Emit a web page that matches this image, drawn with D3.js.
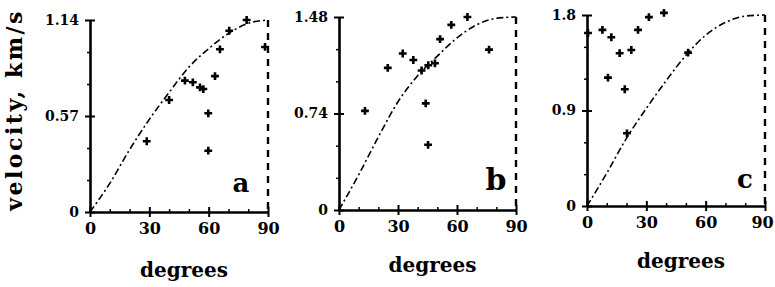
<!DOCTYPE html>
<html>
<head>
<meta charset="utf-8">
<script src="https://cdn.jsdelivr.net/npm/d3@7"></script>
<style>
  body { margin: 0; background: #fff; }
  svg { display: block; }
  text { font-family: "DejaVu Serif", serif; font-weight: bold; fill: #000; }
</style>
</head>
<body>
<script>
// panel a - measured points (angle in degrees, velocity km/s)
const aDeg = [28.7, 40, 48, 52, 55.6, 57.3, 59.8, 59.8, 63.2, 65.7, 70.4, 79.2, 88.5];
const aVel = [0.42, 0.665, 0.78, 0.77, 0.74, 0.73, 0.586, 0.364, 0.807, 0.966, 1.076, 1.14, 0.98];
// panel a - dash-dot curve
const aCurveDeg = [0, 10, 20, 30, 40, 50, 60, 70, 80, 90];
const aCurveVel = [0, 0.17, 0.37, 0.55, 0.71, 0.86, 0.97, 1.06, 1.12, 1.14];

// panel b
const bDeg = [13.2, 24.8, 32.4, 37.8, 42.0, 45.4, 48.8, 44.1, 45.3, 51.4, 57.1, 65.3, 76.3];
const bVel = [0.76, 1.09, 1.2, 1.15, 1.07, 1.11, 1.125, 0.818, 0.5, 1.31, 1.42, 1.48, 1.23];
const bCurveDeg = [0, 10, 20, 30, 40, 50, 60, 70, 80, 90];
const bCurveVel = [0, 0.27, 0.56, 0.83, 1.03, 1.18, 1.32, 1.42, 1.47, 1.48];

// panel c
const cDeg = [0.5, 7.8, 12.3, 16.5, 22.4, 25.8, 31.3, 38.9, 10.6, 19.1, 20.2, 51.1];
const cVel = [1.63, 1.66, 1.59, 1.44, 1.47, 1.66, 1.78, 1.82, 1.21, 1.1, 0.685, 1.445];
const cCurveDeg = [0, 10, 20, 30, 40, 50, 60, 70, 80, 90];
const cCurveVel = [0, 0.31, 0.64, 0.92, 1.18, 1.42, 1.61, 1.73, 1.79, 1.8];

// axis ticks
const xTicks = [0, 30, 60, 90];
const xMinor = [10, 20, 40, 50, 70, 80];
const aYTicks = [0, 0.57, 1.14];
const bYTicks = [0, 0.74, 1.48];
const cYTicks = [0, 0.9, 1.8];
const panelLetters = ["a", "b", "c"];
const xTitle = "degrees";
const yTitle = "velocity, km/s";

const width = 775, height = 287;

const svg = d3.select("body").append("svg")
    .attr("width", width)
    .attr("height", height);

// layout of each panel (pixel box of the plot area)
const panels = [
    { deg: aDeg, vel: aVel, cDeg: aCurveDeg, cVel: aCurveVel, yTicks: aYTicks,
      left: 90, right: 268, top: 20, bottom: 212, letterX: 241, letterY: 192, titleY: 277 },
    { deg: bDeg, vel: bVel, cDeg: bCurveDeg, cVel: bCurveVel, yTicks: bYTicks,
      left: 339, right: 516, top: 17, bottom: 210, letterX: 496, letterY: 190, titleY: 272 },
    { deg: cDeg, vel: cVel, cDeg: cCurveDeg, cVel: cCurveVel, yTicks: cYTicks,
      left: 587, right: 765, top: 15, bottom: 206, letterX: 745, letterY: 188, titleY: 268 }
];

panels.forEach((p, i) => {
    const yMax = p.yTicks[p.yTicks.length - 1];
    const x = d3.scaleLinear().domain([0, 90]).range([p.left, p.right]);
    const y = d3.scaleLinear().domain([0, yMax]).range([p.bottom, p.top]);
    const g = svg.append("g");

    // minor ticks on y
    const yMinor = d3.range(1, 6).filter(k => k !== 3).map(k => yMax * k / 6);
    g.append("g")
        .attr("transform", `translate(${p.left},0)`)
        .call(d3.axisLeft(y).tickValues(yMinor).tickSize(3).tickFormat(""))
        .call(s => s.select(".domain").remove())
        .selectAll("line").attr("stroke-width", 1.5);

    // minor ticks on x
    g.append("g")
        .attr("transform", `translate(0,${p.bottom})`)
        .call(d3.axisTop(x).tickValues(xMinor).tickSize(3).tickFormat(""))
        .call(s => s.select(".domain").remove())
        .selectAll("line").attr("stroke-width", 1.5);

    // y axis
    const ya = g.append("g")
        .attr("transform", `translate(${p.left},0)`)
        .call(d3.axisLeft(y).tickValues(p.yTicks).tickSize(5).tickSizeOuter(0).tickPadding(6)
            .tickFormat(d => String(d)))
        .attr("font-family", null)
        .attr("font-size", null);
    ya.select(".domain").attr("stroke-width", 2.6);
    ya.selectAll(".tick line").attr("x1", 5).attr("stroke-width", 2);
    ya.selectAll(".tick text").style("font-size", "14px");

    // x axis
    const xa = g.append("g")
        .attr("transform", `translate(0,${p.bottom})`)
        .call(d3.axisBottom(x).tickValues(xTicks).tickSize(5).tickSizeOuter(0).tickPadding(6))
        .attr("font-family", null)
        .attr("font-size", null);
    xa.select(".domain").attr("stroke-width", 2.6);
    xa.selectAll(".tick line").attr("y1", -5).attr("stroke-width", 2);
    xa.selectAll(".tick text")
        .style("font-size", "16px")
        // keep the last label of the right panel inside the page
        .attr("dx", d => (i === 2 && d === 90) ? -3 : null);

    // dashed vertical at 90 degrees
    g.append("line")
        .attr("x1", x(90)).attr("x2", x(90))
        .attr("y1", y(yMax)).attr("y2", y(0))
        .attr("stroke", "#000")
        .attr("stroke-width", 2.4)
        .attr("stroke-dasharray", "7,6");

    // dash-dot curve
    const curve = p.cDeg.map((d, k) => [d, p.cVel[k]]);
    g.append("path")
        .datum(curve)
        .attr("fill", "none")
        .attr("stroke", "#000")
        .attr("stroke-width", 1.6)
        .attr("stroke-dasharray", "7,3,2,3")
        .attr("d", d3.line()
            .x(d => x(d[0]))
            .y(d => y(d[1]))
            .curve(d3.curveMonotoneX));

    // points
    const pts = p.deg.map((d, k) => [d, p.vel[k]]);
    g.selectAll(".pt")
        .data(pts)
        .join("path")
        .attr("class", "pt")
        .attr("transform", d => `translate(${x(d[0])},${y(d[1])})`)
        .attr("d", d3.symbol(d3.symbolCross, 34))
        .attr("fill", "#000");

    // panel letter
    g.append("text")
        .attr("x", p.letterX)
        .attr("y", p.letterY)
        .attr("text-anchor", "middle")
        .style("font-size", i === 1 ? "30px" : "26px")
        .text(panelLetters[i]);

    // x title
    g.append("text")
        .attr("x", (p.left + p.right) / 2 + 5)
        .attr("y", p.titleY)
        .attr("text-anchor", "middle")
        .style("font-size", "20px")
        .text(xTitle);
});

// y title
svg.append("text")
    .attr("transform", "translate(22,110) rotate(-90)")
    .attr("text-anchor", "middle")
    .style("font-size", "22px")
    .style("letter-spacing", "2.5px")
    .text(yTitle);
</script>
</body>
</html>
